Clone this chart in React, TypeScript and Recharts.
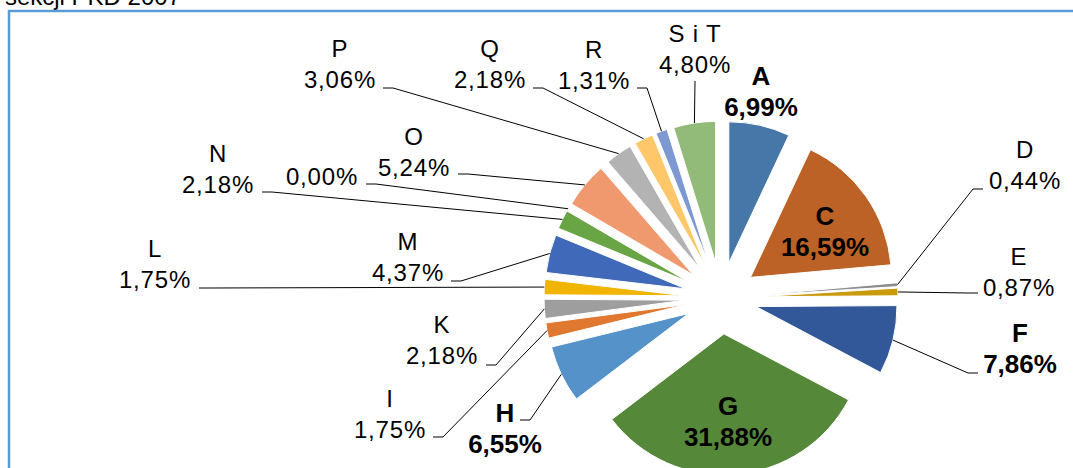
import { PieChart, Pie, Cell } from 'recharts';

const categories = ['A', 'C', 'D', 'E', 'F', 'G', 'H', 'I', 'K', 'L', 'M', 'N', '', 'O', 'P', 'Q', 'R', 'S i T'];
const shares = [6.99, 16.59, 0.44, 0.87, 7.86, 31.88, 6.55, 1.75, 2.18, 1.75, 4.37, 2.18, 0, 5.24, 3.06, 2.18, 1.31, 4.8];
const boldLabels = ['A', 'C', 'F', 'G', 'H'];

const COLORS = [
  '#4677A8', '#BC6226', '#8E8E8E', '#C99A0C', '#325899', '#56883A', '#5592CA', '#E0782F', '#9E9E9E',
  '#F1B400', '#4169B9', '#6AA545', '#CCCCCC', '#F0996F', '#B3B3B3', '#FEC86A', '#7E98D2', '#92BB7A',
];

const W = 1073;
const H = 468;
const CX = 721;
const CY = 298;
const R = 141;
const EXPLODE = 36;
const RAD = Math.PI / 180;
const FONT = '"Liberation Sans", Arial, sans-serif';

// label text position [x, first baseline, leader start x, leader start y, stub direction]
// direction: 1 = stub to the right, -1 = to the left, 0 = straight line, null = no leader
const LABEL_POS: [number, number, number, number, number | null][] = [
  [761, 85, 0, 0, null],
  [825, 225, 0, 0, null],
  [1025, 158, 983, 189, -1],
  [1019, 265, 978, 293, -1],
  [1020, 342, 978, 373, -1],
  [728, 415, 0, 0, null],
  [505, 422, 520, 420, 1],
  [390, 407, 433, 437, 1],
  [442, 333, 486, 365, 1],
  [155, 257, 199, 288, 1],
  [408, 250, 451, 281, 1],
  [218, 162, 262, 192, 1],
  [322, 185, 366, 184, 1],
  [414, 145, 458, 174, 1],
  [340, 57, 383, 88, 1],
  [490, 57, 533, 88, 1],
  [594, 58, 637, 88, 1],
  [695, 42, 695, 81, 0],
];

const data = categories.map((name, i) => ({ name, value: shares[i] }));

const fmt = (v: number) => v.toFixed(2).replace('.', ',') + '%';

// offsets for the exploded slices, along each slice's middle angle
const total = shares.reduce((a, b) => a + b, 0);
let acc = 0;
const offsets = shares.map((v) => {
  const mid = ((acc + v / 2) / total) * 360;
  acc += v;
  return [EXPLODE * Math.sin(mid * RAD), -EXPLODE * Math.cos(mid * RAD)];
});

const renderLabel = (props: any) => {
  const { cx, cy, midAngle, outerRadius, index } = props;
  const [x, y, sx, sy, dir] = LABEL_POS[index];
  const name = categories[index];
  const bold = boldLabels.includes(name);
  const size = bold ? 26 : 24;
  let line = null;
  if (dir !== null) {
    const tx = cx + (outerRadius + EXPLODE) * Math.cos(-midAngle * RAD);
    const ty = cy + (outerRadius + EXPLODE) * Math.sin(-midAngle * RAD);
    const d = dir === 0 ? `M${sx},${sy}L${tx},${ty}` : `M${sx},${sy}H${sx + dir * 10}L${tx},${ty}`;
    line = <path d={d} stroke="#000" strokeWidth={1} fill="none" />;
  }
  return (
    <g key={`lbl-${index}`}>
      {line}
      <text
        textAnchor="middle"
        fontFamily={FONT}
        fontSize={size}
        fontWeight={bold ? 'bold' : 'normal'}
        letterSpacing={bold ? 0 : 0.8}
        fill="#000"
      >
        {name ? (
          <>
            <tspan x={x} y={y}>{name}</tspan>
            <tspan x={x} y={y + 31}>{fmt(shares[index])}</tspan>
          </>
        ) : (
          <tspan x={x} y={y}>{fmt(shares[index])}</tspan>
        )}
      </text>
    </g>
  );
};

export default function App() {
  return (
    <div style={{ position: 'absolute', left: 0, top: 0, width: W, height: H, background: '#fff', overflow: 'hidden' }}>
      <svg width={W} height={H} style={{ position: 'absolute', left: 0, top: 0 }}>
        <text x={181} y={5} textAnchor="end" fontFamily={FONT} fontSize={24} fill="#000">
          Struktura według sekcji PKD 2007
        </text>
        <path d={`M9,${H + 5}V11H${W + 5}`} stroke="#5B9BD5" strokeWidth={2.5} fill="none" />
      </svg>
      <div style={{ position: 'absolute', left: 0, top: 0 }}>
        <PieChart width={W} height={H} margin={{ top: 0, right: 0, bottom: 0, left: 0 }}>
          <Pie
            data={data}
            dataKey="value"
            nameKey="name"
            cx={CX}
            cy={CY}
            outerRadius={R}
            startAngle={90}
            endAngle={-270}
            stroke="#fff"
            strokeWidth={1}
            labelLine={false}
            label={renderLabel}
            isAnimationActive={false}
          >
            {data.map((entry, i) => (
              <Cell
                key={`cell-${i}`}
                fill={COLORS[i]}
                stroke={entry.value === 0 ? 'none' : '#fff'}
                transform={`translate(${offsets[i][0]},${offsets[i][1]})`}
              />
            ))}
          </Pie>
        </PieChart>
      </div>
    </div>
  );
}
